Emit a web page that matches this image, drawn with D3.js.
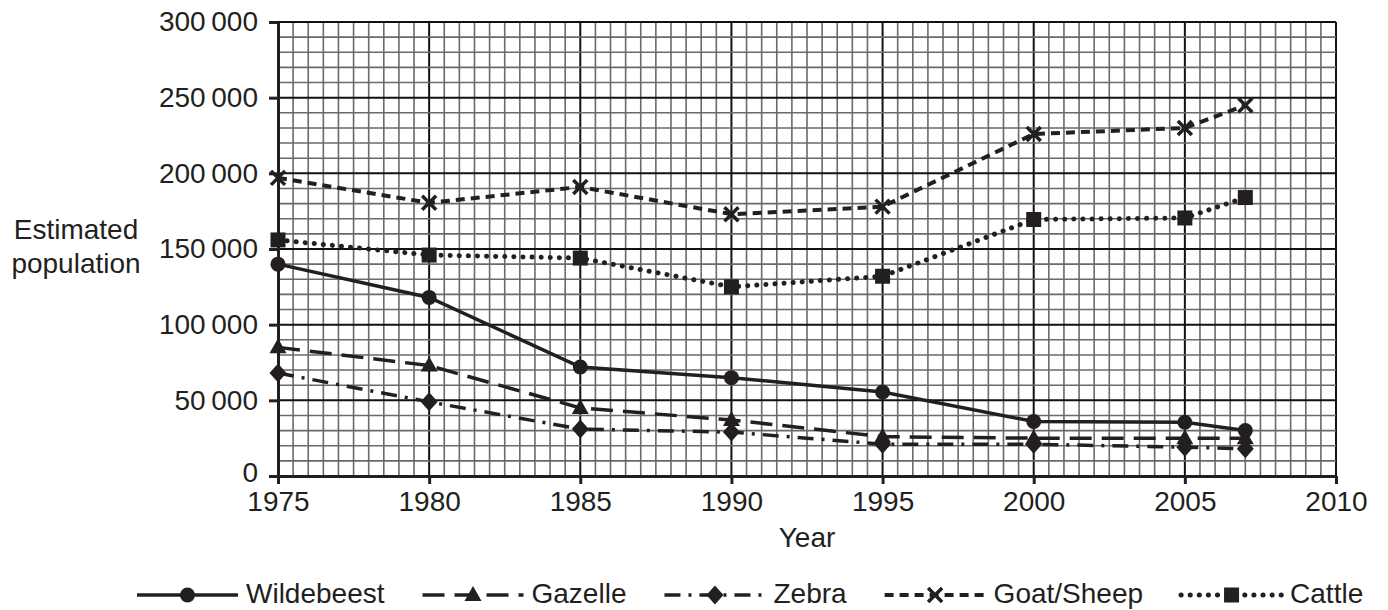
<!DOCTYPE html>
<html>
<head>
<meta charset="utf-8">
<script src="https://cdn.jsdelivr.net/npm/d3@7"></script>
<style>
  body { margin: 0; background: #fff; }
  text { font-family: "Liberation Sans", Arial, sans-serif; fill: #231f20; }
</style>
</head>
<body>
<script>
const years = [1975, 1980, 1985, 1990, 1995, 2000, 2005, 2007];
const wildebeest = [140000, 118000, 72000, 65000, 55500, 36000, 35500, 30000];
const gazelle = [85000, 73000, 45000, 37000, 26000, 25000, 25000, 25000];
const zebra = [68000, 49000, 31000, 29000, 21000, 21000, 19000, 18000];
const goatSheep = [197000, 180500, 191000, 173000, 178000, 226000, 230000, 245000];
const cattle = [156000, 146000, 144000, 125000, 132000, 169500, 170500, 184000];
const yTicks = [0, 50000, 100000, 150000, 200000, 250000, 300000];
const xTicks = [1975, 1980, 1985, 1990, 1995, 2000, 2005, 2010];

const series = [
    {name: "Wildebeest", values: wildebeest, dash: null, cap: "butt", width: 3.5, marker: "circle"},
    {name: "Gazelle", values: gazelle, dash: "22,10", cap: "butt", width: 3.5, marker: "triangle"},
    {name: "Zebra", values: zebra, dash: "16,8,3,8", cap: "butt", width: 3.5, marker: "diamond"},
    {name: "Goat/Sheep", values: goatSheep, dash: "9,6", cap: "butt", width: 4, marker: "cross"},
    {name: "Cattle", values: cattle, dash: "0.1,9", cap: "round", width: 5, marker: "square"}
];

const W = 1388, H = 610;
const margin = {top: 22, right: 52, bottom: 134, left: 278},
    width = W - margin.left - margin.right,
    height = H - margin.top - margin.bottom;

const svg = d3.select("body").append("svg")
    .attr("width", W)
    .attr("height", H);

const chart = svg.append("g")
    .attr("transform", "translate(" + margin.left + "," + margin.top + ")");

const x = d3.scaleLinear().domain([1975, 2010]).range([0, width]);
const y = d3.scaleLinear().domain([0, 300000]).range([height, 0]);

// graph paper
const grid = chart.append("g");
d3.range(1975, 2010.01, 0.5).forEach(function(v) {
    const major = Math.abs(v % 5) < 1e-6;
    grid.append("line")
        .attr("x1", x(v)).attr("x2", x(v))
        .attr("y1", 0).attr("y2", height)
        .attr("stroke", major ? "#111" : "#6a6a6a")
        .attr("stroke-width", major ? 2 : 1.6);
});
d3.range(0, 300001, 10000).forEach(function(v) {
    const major = v % 50000 === 0;
    grid.append("line")
        .attr("x1", 0).attr("x2", width)
        .attr("y1", y(v)).attr("y2", y(v))
        .attr("stroke", major ? "#111" : "#6a6a6a")
        .attr("stroke-width", major ? 2 : 1.6);
});

const fmt = function(d) {
    if (d === 0) return "0";
    const s = d3.format("d")(d);
    return s.slice(0, s.length - 3) + "\u2009" + s.slice(-3);
};

const yAxis = chart.append("g")
    .call(d3.axisLeft(y).tickValues(yTicks).tickFormat(fmt).tickSizeInner(9).tickSizeOuter(0).tickPadding(11));
const xAxis = chart.append("g")
    .attr("transform", "translate(0," + height + ")")
    .call(d3.axisBottom(x).tickValues(xTicks).tickFormat(d3.format("d")).tickSizeInner(8).tickSizeOuter(0).tickPadding(7));

[yAxis, xAxis].forEach(function(a) {
    a.select(".domain").attr("stroke", "#231f20").attr("stroke-width", 3);
    a.selectAll(".tick line").attr("stroke", "#231f20").attr("stroke-width", 3);
    a.selectAll(".tick text")
        .attr("font-size", "28px")
        .attr("font-family", "'Liberation Sans', Arial, sans-serif")
        .attr("fill", "#231f20");
});
// keep the "0" label clear of the first year label
yAxis.selectAll(".tick text").filter(function(d) { return d === 0; }).attr("dy", "0.2em");

// axis titles
svg.append("text")
    .attr("x", margin.left + width / 2)
    .attr("y", 547)
    .attr("text-anchor", "middle")
    .attr("font-size", "28px")
    .text("Year");

const yt = svg.append("text")
    .attr("text-anchor", "middle")
    .attr("font-size", "28px");
yt.append("tspan").attr("x", 76).attr("y", 239).text("Estimated");
yt.append("tspan").attr("x", 76).attr("y", 273).text("population");

function drawMarker(g, type, cx, cy) {
    if (type === "circle") {
        g.append("circle").attr("cx", cx).attr("cy", cy).attr("r", 7.5).attr("fill", "#231f20");
    } else if (type === "triangle") {
        g.append("path")
            .attr("d", "M" + cx + "," + (cy - 9) + "L" + (cx + 8.5) + "," + (cy + 6) + "L" + (cx - 8.5) + "," + (cy + 6) + "Z")
            .attr("fill", "#231f20");
    } else if (type === "diamond") {
        g.append("path")
            .attr("d", "M" + cx + "," + (cy - 9.5) + "L" + (cx + 8.5) + "," + cy + "L" + cx + "," + (cy + 9.5) + "L" + (cx - 8.5) + "," + cy + "Z")
            .attr("fill", "#231f20");
    } else if (type === "cross") {
        const s = 7;
        g.append("path")
            .attr("d", "M" + (cx - s) + "," + (cy - s) + "L" + (cx + s) + "," + (cy + s) +
                "M" + (cx - s) + "," + (cy + s) + "L" + (cx + s) + "," + (cy - s))
            .attr("stroke", "#231f20").attr("stroke-width", 3.5).attr("fill", "none");
    } else if (type === "square") {
        g.append("rect").attr("x", cx - 7.5).attr("y", cy - 7.5).attr("width", 15).attr("height", 15).attr("fill", "#231f20");
    }
}

const line = d3.line()
    .x(function(d) { return x(d.year); })
    .y(function(d) { return y(d.value); });

series.forEach(function(s) {
    const pts = years.map(function(yr, i) { return {year: yr, value: s.values[i]}; });
    chart.append("path")
        .datum(pts)
        .attr("d", line)
        .attr("fill", "none")
        .attr("stroke", "#231f20")
        .attr("stroke-width", s.width)
        .attr("stroke-linecap", s.cap)
        .attr("stroke-dasharray", s.dash);
    const mg = chart.append("g");
    pts.forEach(function(p) { drawMarker(mg, s.marker, x(p.year), y(p.value)); });
});

// legend
const legend = svg.append("g").attr("transform", "translate(0,595)");
let lx = 137;
series.forEach(function(s) {
    const len = 101;
    const g = legend.append("g");
    g.append("line")
        .attr("x1", lx).attr("x2", lx + len)
        .attr("y1", 0).attr("y2", 0)
        .attr("stroke", "#231f20")
        .attr("stroke-width", s.width)
        .attr("stroke-linecap", s.cap)
        .attr("stroke-dasharray", s.dash);
    drawMarker(g, s.marker, lx + len / 2, 0);
    const t = g.append("text")
        .attr("x", lx + len + 8)
        .attr("y", 8)
        .attr("font-size", "28px")
        .text(s.name);
    lx = lx + len + 8 + t.node().getComputedTextLength() + 38;
});
</script>
</body>
</html>
